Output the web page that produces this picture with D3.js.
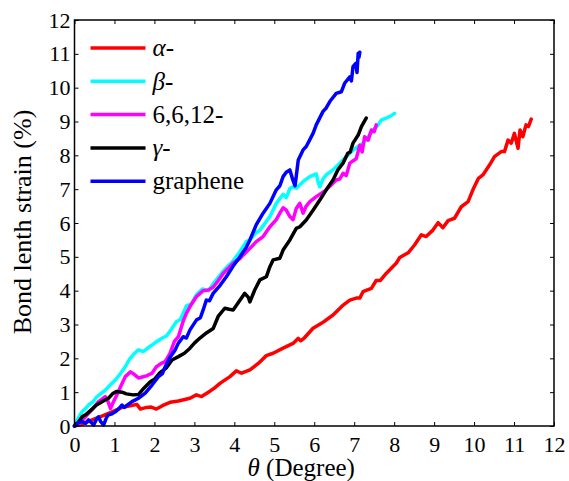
<!DOCTYPE html>
<html>
<head>
<meta charset="utf-8">
<script src="https://cdn.jsdelivr.net/npm/d3@7"></script>
<style>
  body { margin: 0; background: #fff; }
  svg { display: block; }
  svg text { font-family: "Liberation Serif", "Times New Roman", serif; }
  .axis text { font-size: 22px; fill: #000; font-family: "Liberation Serif", "Times New Roman", serif; }
  .axis line { stroke: #000; stroke-width: 1; }
  .axis-title { font-size: 25px; fill: #000; }
  .y-title { font-size: 26px; }
  .legend text { font-size: 25px; fill: #000; }
  .series { fill: none; stroke-width: 3.5; stroke-linejoin: round; stroke-linecap: round; }
</style>
</head>
<body>
<svg id="chart"></svg>
<script>
// values: [theta (degree), bond length strain (%)]
const alphaData = [[0,0],[0.2,0.06],[0.44,0.18],[0.7,0.3],[0.94,0.42],[1.19,0.55],[1.4,0.6],[1.56,0.64],[1.65,0.5],[1.8,0.55],[1.92,0.56],[2.05,0.5],[2.2,0.6],[2.39,0.7],[2.6,0.74],[2.89,0.82],[3.05,0.92],[3.18,0.87],[3.35,1.0],[3.5,1.12],[3.64,1.26],[3.89,1.46],[4.05,1.63],[4.18,1.56],[4.39,1.66],[4.6,1.85],[4.8,2.08],[4.97,2.15],[5.22,2.3],[5.47,2.44],[5.6,2.59],[5.66,2.52],[5.75,2.6],[5.97,2.89],[6.2,3.05],[6.47,3.28],[6.7,3.55],[6.89,3.72],[7.05,3.78],[7.14,3.78],[7.22,3.97],[7.43,4.07],[7.55,4.3],[7.65,4.3],[7.8,4.51],[8.05,4.81],[8.14,4.98],[8.35,5.12],[8.51,5.35],[8.68,5.65],[8.8,5.6],[8.97,5.79],[9.1,6.01],[9.22,5.86],[9.35,6.07],[9.51,6.14],[9.68,6.48],[9.85,6.63],[9.97,6.98],[10.11,7.32],[10.22,7.42],[10.39,7.72],[10.51,7.96],[10.68,8.11],[10.76,8.11],[10.85,8.45],[10.93,8.36],[11.01,8.65],[11.06,8.4],[11.1,8.21],[11.15,8.75],[11.22,8.55],[11.3,8.9],[11.36,8.85],[11.43,9.07]];

const betaData = [[0,0],[0.1,0.25],[0.19,0.42],[0.3,0.55],[0.35,0.62],[0.45,0.7],[0.55,0.85],[0.65,0.95],[0.77,1.06],[0.9,1.22],[1.02,1.36],[1.15,1.55],[1.27,1.75],[1.38,1.98],[1.48,2.12],[1.6,2.25],[1.72,2.2],[1.85,2.32],[1.95,2.4],[2.05,2.49],[2.2,2.6],[2.3,2.66],[2.42,2.85],[2.55,3.08],[2.65,3.15],[2.8,3.55],[2.92,3.6],[3.05,3.88],[3.2,4.05],[3.35,4.0],[3.5,4.25],[3.72,4.58],[3.97,4.88],[4.14,5.15],[4.3,5.45],[4.39,5.5],[4.55,5.72],[4.64,5.79],[4.89,6.19],[5.05,6.58],[5.22,6.85],[5.3,6.75],[5.39,7.02],[5.47,7.07],[5.55,7.03],[5.72,7.22],[5.89,7.37],[6.05,7.45],[6.1,7.2],[6.14,7.07],[6.22,7.3],[6.3,7.42],[6.47,7.57],[6.64,7.77],[6.8,7.96],[6.97,8.15],[7.14,8.3],[7.22,8.36],[7.35,8.55],[7.47,8.75],[7.6,8.9],[7.68,9.05],[7.8,9.1],[7.9,9.15],[8.01,9.24]];

const magentaData = [[0,0],[0.15,0.1],[0.27,0.27],[0.45,0.5],[0.6,0.72],[0.77,0.87],[0.83,0.75],[0.9,0.52],[0.97,0.7],[1.06,0.92],[1.15,1.15],[1.27,1.46],[1.4,1.6],[1.5,1.52],[1.6,1.42],[1.7,1.45],[1.8,1.48],[1.94,1.56],[2.05,1.75],[2.17,1.85],[2.27,1.9],[2.39,2.15],[2.5,2.5],[2.6,2.64],[2.72,3.1],[2.8,3.33],[2.89,3.53],[3.05,3.82],[3.22,4.0],[3.35,4.02],[3.47,4.1],[3.6,4.3],[3.72,4.51],[3.97,4.81],[4.14,4.95],[4.22,5.05],[4.39,5.25],[4.55,5.45],[4.72,5.6],[4.89,5.89],[5.05,6.1],[5.14,6.29],[5.22,6.45],[5.3,6.38],[5.39,6.19],[5.47,6.1],[5.55,6.43],[5.64,6.58],[5.72,6.29],[5.8,6.5],[5.89,6.63],[6.05,6.78],[6.3,6.98],[6.55,7.27],[6.64,7.3],[6.72,7.47],[6.8,7.4],[6.89,7.77],[7.05,7.9],[7.14,8.3],[7.2,8.1],[7.26,8.55],[7.35,8.45],[7.43,8.75],[7.5,8.7],[7.55,8.9]];

const gammaData = [[0,0],[0.1,0.12],[0.19,0.27],[0.3,0.35],[0.44,0.5],[0.55,0.62],[0.69,0.72],[0.85,0.82],[0.95,0.95],[1.05,1.02],[1.19,1.0],[1.3,0.95],[1.47,0.92],[1.6,0.93],[1.73,1.11],[1.89,1.3],[2.0,1.38],[2.14,1.58],[2.3,1.72],[2.44,1.95],[2.6,2.05],[2.75,2.15],[2.89,2.3],[3.0,2.45],[3.14,2.6],[3.3,2.75],[3.47,2.88],[3.6,3.25],[3.76,3.48],[3.87,3.45],[3.97,3.43],[4.14,3.72],[4.26,3.92],[4.35,3.8],[4.39,3.67],[4.51,4.02],[4.64,4.32],[4.8,4.41],[4.89,4.71],[4.97,4.91],[5.14,4.96],[5.22,5.2],[5.39,5.5],[5.55,5.84],[5.64,5.89],[5.8,6.09],[5.97,6.38],[6.14,6.68],[6.3,6.98],[6.47,7.27],[6.59,7.57],[6.72,7.77],[6.84,8.06],[6.9,8.1],[6.97,8.36],[7.1,8.6],[7.18,8.85],[7.3,9.1]];

const grapheneData = [[0,0],[0.1,0.1],[0.19,0.13],[0.28,0.08],[0.35,0.18],[0.42,0.1],[0.48,0.03],[0.55,0.2],[0.6,0.27],[0.66,0.12],[0.73,0.03],[0.8,0.25],[0.85,0.33],[0.92,0.35],[1.02,0.42],[1.1,0.5],[1.19,0.62],[1.25,0.55],[1.3,0.6],[1.44,0.72],[1.6,0.82],[1.77,0.97],[1.94,1.21],[2.1,1.46],[2.2,1.55],[2.27,1.75],[2.4,2.05],[2.52,2.25],[2.6,2.45],[2.72,2.64],[2.8,2.6],[2.89,2.84],[3.05,3.13],[3.15,3.2],[3.22,3.43],[3.3,3.72],[3.38,3.7],[3.47,3.92],[3.64,4.15],[3.8,4.41],[3.97,4.73],[4.14,5.0],[4.3,5.28],[4.39,5.5],[4.55,5.95],[4.72,6.29],[4.89,6.58],[5.05,6.98],[5.14,7.1],[5.22,7.37],[5.3,7.5],[5.39,7.57],[5.47,7.25],[5.52,7.1],[5.6,7.86],[5.72,8.16],[5.8,8.26],[5.97,8.65],[6.05,8.9],[6.22,9.3],[6.3,9.4],[6.39,9.59],[6.55,9.83],[6.68,9.88],[6.76,10.13],[6.89,10.32],[6.93,10.2],[6.97,10.62],[7.04,10.72],[7.07,10.45],[7.1,11.02],[7.12,10.9],[7.14,11.05]];

const seriesNames = ['α-', 'β-', '6,6,12-', 'γ-', 'graphene'];
const seriesColors = ['#ff0000', '#00ffff', '#ff00ff', '#000000', '#0000ff'];
const xTicks = [0, 1, 2, 3, 4, 5, 6, 7, 8, 9, 10, 11, 12];
const yTicks = [0, 1, 2, 3, 4, 5, 6, 7, 8, 9, 10, 11, 12];

class StrainChart {
    constructor(_config, _series) {
        this.config = {
            parentElement: _config.parentElement,
            containerWidth: 569,
            containerHeight: 481,
            margin: {top: 20, right: 15, bottom: 55, left: 74.5},
            tickLength: 4
        };
        this.series = _series;
        this.initVis();
    }

    initVis() {
        let vis = this;

        vis.width = vis.config.containerWidth - vis.config.margin.left - vis.config.margin.right;
        vis.height = vis.config.containerHeight - vis.config.margin.top - vis.config.margin.bottom;

        vis.xScale = d3.scaleLinear().domain([0, 12]).range([0, vis.width]);
        vis.yScale = d3.scaleLinear().domain([0, 12]).range([vis.height, 0]);

        vis.svg = d3.select(vis.config.parentElement)
            .attr('width', vis.config.containerWidth)
            .attr('height', vis.config.containerHeight);

        vis.chart = vis.svg.append('g')
            .attr('transform', `translate(${vis.config.margin.left},${vis.config.margin.top})`);

        // axis titles
        vis.chart.append('text')
            .attr('class', 'axis-title')
            .attr('x', vis.xScale(6) - 13)
            .attr('y', vis.height + 50)
            .attr('text-anchor', 'middle')
            .call(t => {
                t.append('tspan').style('font-style', 'italic').text('θ');
                t.append('tspan').text(' (Degree)');
            });

        vis.svg.append('text')
            .attr('class', 'axis-title y-title')
            .attr('transform', `translate(31,${vis.config.margin.top + vis.yScale(6) - 1}) rotate(-90)`)
            .attr('text-anchor', 'middle')
            .text('Bond lenth strain (%)');

        vis.renderVis();
    }

    renderVis() {
        let vis = this;
        const tl = vis.config.tickLength;

        const line = d3.line()
            .x(d => vis.xScale(d[0]))
            .y(d => vis.yScale(d[1]));

        vis.chart.selectAll('.series')
            .data(vis.series)
            .join('path')
            .attr('class', 'series')
            .attr('stroke', d => d.color)
            .attr('d', d => line(d.values));

        // inward ticks on all four sides
        vis.chart.append('g')
            .attr('class', 'axis x-axis')
            .attr('transform', `translate(0,${vis.height})`)
            .call(d3.axisBottom(vis.xScale).tickValues(xTicks).tickSize(-tl).tickSizeOuter(0).tickPadding(10))
            .call(g => g.select('.domain').remove());

        vis.chart.append('g')
            .attr('class', 'axis')
            .call(d3.axisTop(vis.xScale).tickValues(xTicks).tickSize(-tl).tickSizeOuter(0).tickFormat(''))
            .call(g => g.select('.domain').remove());

        vis.chart.append('g')
            .attr('class', 'axis y-axis')
            .call(d3.axisLeft(vis.yScale).tickValues(yTicks).tickSize(-tl).tickSizeOuter(0).tickPadding(4))
            .call(g => g.select('.domain').remove());

        vis.chart.append('g')
            .attr('class', 'axis')
            .attr('transform', `translate(${vis.width},0)`)
            .call(d3.axisRight(vis.yScale).tickValues(yTicks).tickSize(-tl).tickSizeOuter(0).tickFormat(''))
            .call(g => g.select('.domain').remove());

        vis.chart.append('rect')
            .attr('width', vis.width)
            .attr('height', vis.height)
            .attr('fill', 'none')
            .attr('stroke', '#000')
            .attr('stroke-width', 1.5);

        // legend
        const legend = vis.chart.append('g')
            .attr('class', 'legend')
            .attr('transform', 'translate(16,28)');

        const rows = legend.selectAll('g')
            .data(vis.series)
            .join('g')
            .attr('transform', (d, i) => `translate(0,${i * 33.3})`);

        rows.append('line')
            .attr('x1', 0).attr('x2', 55)
            .attr('stroke', d => d.color)
            .attr('stroke-width', 3.5);

        rows.append('text')
            .attr('x', 62)
            .attr('dy', '0.33em')
            .each(function (d) {
                const t = d3.select(this);
                if (/^[αβγ]/.test(d.name)) {
                    t.append('tspan').style('font-style', 'italic').text(d.name[0]);
                    t.append('tspan').text(d.name.slice(1));
                } else {
                    t.text(d.name);
                }
            });
    }
}

const allData = [alphaData, betaData, magentaData, gammaData, grapheneData];
const series = seriesNames.map((name, i) => ({name: name, color: seriesColors[i], values: allData[i]}));

new StrainChart({parentElement: '#chart'}, series);
</script>
</body>
</html>
